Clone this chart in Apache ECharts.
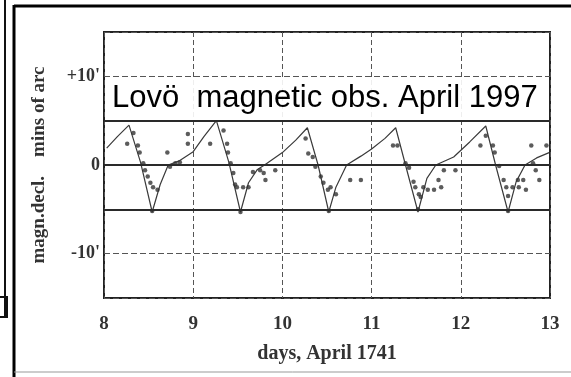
<!DOCTYPE html>
<html>
<head>
<meta charset="utf-8">
<script src="https://cdn.jsdelivr.net/npm/echarts@6/dist/echarts.min.js"></script>
<style>
  html, body { margin: 0; padding: 0; background: #fff; }
  #chart { width: 571px; height: 377px; }
</style>
</head>
<body>
<div id="chart"></div>
<script>
// solid curve (days, mins of arc)
const curveDays = [8.03, 8.15, 8.28, 8.41, 8.54, 8.63, 8.72, 8.85, 9.0, 9.12,
  9.26, 9.4, 9.53, 9.62, 9.72, 9.8, 10.0, 10.15, 10.28, 10.4,
  10.52, 10.6, 10.72, 10.88, 11.0, 11.15, 11.27, 11.38, 11.52, 11.62,
  11.72, 11.92, 12.1, 12.28, 12.39, 12.53, 12.62, 12.72, 12.85, 12.99]
const curveVals = [1.9, 3.2, 4.5, 0.3, -5.3, -2.2, 0, 0.5, 1.5, 3.2,
  5.0, 0.3, -5.3, -2.0, -0.5, 0, 1.4, 2.8, 4.2, 0,
  -5.3, -2.5, 0, 1.0, 1.8, 3.0, 4.2, 0, -5.3, -1.5,
  0, 0.9, 2.6, 4.4, 0, -5.3, -1.9, 0, 0.8, 1.4]

// observed dots
const dotDays = [8.26, 8.33, 8.38, 8.40, 8.44, 8.46, 8.49, 8.52, 8.55, 8.60,
  8.54, 8.71, 8.74, 8.80, 8.85, 8.94, 8.94, 9.19,
  9.34, 9.38, 9.39, 9.42, 9.45, 9.47, 9.49, 9.56, 9.62, 9.53,
  9.67, 9.75, 9.79, 9.81, 9.92, 10.26, 10.29, 10.34, 10.37, 10.43,
  10.46, 10.51, 10.52,
  10.54, 10.60, 10.76, 10.88, 11.24, 11.29, 11.38, 11.42, 11.47, 11.49,
  11.53, 11.55, 11.52, 11.58, 11.63, 11.70, 11.75, 11.81, 11.78, 11.94,
  12.22, 12.28, 12.36, 12.38, 12.43, 12.48, 12.51, 12.53, 12.53, 12.58,
  12.64, 12.65, 12.70, 12.73, 12.79, 12.81, 12.84, 12.88, 12.96]
const dotVals = [2.4, 3.6, 2.2, 1.4, 0.2, -0.6, -1.3, -2.0, -2.5, -2.8,
  -5.2, 1.4, -0.2, 0.2, 0.3, 3.5, 2.4, 2.4,
  3.9, 2.4, 1.4, 0.2, -0.9, -2.2, -2.5, -2.5, -2.5, -5.3,
  -0.8, -0.6, -0.9, -1.7, -0.6, 3.0, 1.3, 0.9, -0.2, -1.3,
  -2.0, -2.8, -5.2,
  -2.5, -3.3, -1.7, -1.7, 2.2, 2.2, 0.2, -0.3, -1.9, -2.5,
  -3.3, -3.6, -5.0, -2.5, -2.8, -2.8, -1.7, -0.6, -2.5, -0.6,
  2.2, 3.3, 2.2, 1.4, -0.1, -1.7, -2.5, -3.5, -5.2, -2.5,
  -1.7, -2.5, -1.7, -2.8, 2.2, 0.2, -0.6, -1.7, 2.2]

const refLevels = [5, 0, -5]
const yLabelValues = [10, 0, -10]
const yLabelTexts = ["+10'", '0', "-10'"]
const annotation = 'Lovö  magnetic obs. April 1997'

const serif = '"Liberation Serif", "DejaVu Serif", serif'
const ink = '#333'

function pairs(xs, ys) {
  return xs.map((x, i) => [x, ys[i]])
}

function yLabel(v) {
  const i = yLabelValues.indexOf(v)
  return i >= 0 ? yLabelTexts[i] : ''
}

function buildOption() {
  return {
    animation: false,
    title: {
      text: annotation,
      left: 106,
      top: 80,
      padding: [3, 5, 3, 6],
      backgroundColor: 'rgba(255,255,255,0.9)',
      textStyle: {
        fontFamily: '"Liberation Sans", Arial, sans-serif',
        fontSize: 31,
        fontWeight: 'normal',
        color: '#000',
      },
    },
    grid: {
      left: 104,
      right: 21,
      top: 32,
      bottom: 79,
      show: true,
      borderColor: '#222',
      borderWidth: 2,
    },
    xAxis: {
      type: 'value',
      min: 8,
      max: 13,
      interval: 1,
      name: 'days, April 1741',
      nameLocation: 'middle',
      nameGap: 46,
      nameTextStyle: { fontFamily: serif, fontSize: 20, fontWeight: 'bold', color: ink },
      axisLine: { show: false },
      axisTick: { show: false },
      axisLabel: { margin: 17, fontFamily: serif, fontSize: 19, fontWeight: 'bold', color: ink },
      splitLine: { lineStyle: { color: '#555', width: 1, type: [5, 3] } },
    },
    yAxis: {
      type: 'value',
      min: -15,
      max: 15,
      interval: 5,
      name: 'magn.decl.    mins of arc',
      nameLocation: 'middle',
      nameGap: 55,
      nameTextStyle: { fontFamily: serif, fontSize: 19, fontWeight: 'bold', color: ink },
      axisLine: { show: false },
      axisTick: { show: false },
      axisLabel: {
        margin: 4,
        fontFamily: serif,
        fontSize: 18,
        fontWeight: 'bold',
        color: ink,
        formatter: yLabel,
      },
      splitLine: { lineStyle: { color: '#555', width: 1, type: [6, 3] } },
    },
    series: [
      {
        type: 'line',
        data: pairs(curveDays, curveVals),
        symbol: 'none',
        lineStyle: { color: '#3a3a3a', width: 1.2 },
        markLine: {
          silent: true,
          symbol: 'none',
          label: { show: false },
          lineStyle: { color: '#2a2a2a', width: 2, type: 'solid' },
          data: refLevels.map(v => ({ yAxis: v })),
        },
        z: 3,
      },
      {
        type: 'scatter',
        data: pairs(dotDays, dotVals),
        symbol: 'circle',
        symbolSize: 4.5,
        itemStyle: { color: '#333' },
        z: 4,
      },
    ],
    graphic: [
      { type: 'line', shape: { x1: 14, y1: 5, x2: 14, y2: 377 }, style: { stroke: '#000', lineWidth: 3 } },
      { type: 'line', shape: { x1: 14, y1: 6, x2: 571, y2: 6 }, style: { stroke: '#000', lineWidth: 3 } },
      { type: 'line', shape: { x1: 14, y1: 372, x2: 571, y2: 372 }, style: { stroke: '#999', lineWidth: 1 } },
      { type: 'line', shape: { x1: 5, y1: 0, x2: 5, y2: 318 }, style: { stroke: '#111', lineWidth: 2 } },
      { type: 'rect', shape: { x: -2, y: 297, width: 9, height: 20 }, style: { fill: 'none', stroke: '#111', lineWidth: 2 } },
    ],
  }
}

const chart = echarts.init(document.getElementById('chart'))
chart.setOption(buildOption())
</script>
</body>
</html>
